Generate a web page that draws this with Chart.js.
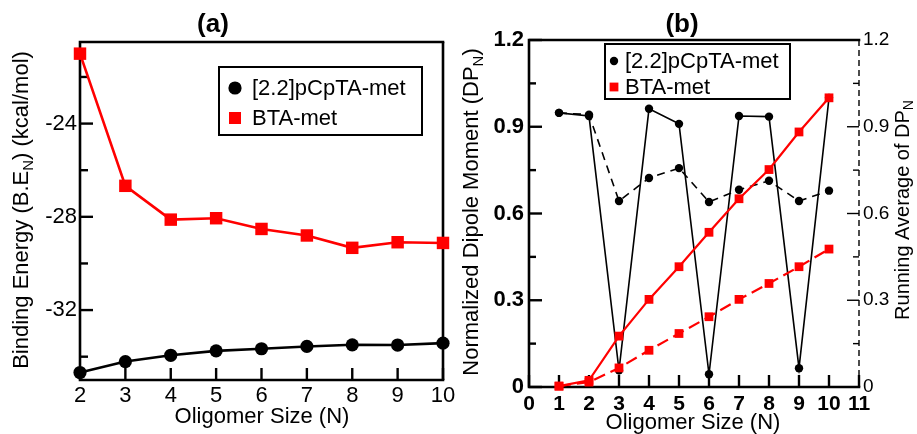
<!DOCTYPE html>
<html>
<head>
<meta charset="utf-8">
<script src="https://cdn.jsdelivr.net/npm/chart.js@4.4.1/dist/chart.umd.min.js"></script>
<style>
  html, body { margin: 0; padding: 0; background: #fff; }
  #wrap { position: relative; width: 917px; height: 434px; }
  #wrap canvas { position: absolute; top: 0; }
</style>
</head>
<body>
<div id="wrap">
  <canvas id="chartA" width="460" height="434" style="left:0"></canvas>
  <canvas id="chartB" width="457" height="434" style="left:460px"></canvas>
</div>
<script>
/* ==============================
   DATA - panel (a) binding energy
============================== */
const sizesA = [2, 3, 4, 5, 6, 7, 8, 9, 10];
const beCyclo = [-34.68, -34.21, -33.94, -33.75, -33.66, -33.56, -33.49, -33.5, -33.42];
const beBTA = [-21.0, -26.67, -28.12, -28.06, -28.52, -28.8, -29.33, -29.09, -29.12];
const xTicksA = [2, 3, 4, 5, 6, 7, 8, 9, 10];
const yTicksA = [-32, -28, -24];
const yMinorA = [-34, -30, -26, -22];

/* ==============================
   DATA - panel (b) dipole moment
============================== */
const sizesB = [1, 2, 3, 4, 5, 6, 7, 8, 9, 10];
const dpCyclo = [0.948, 0.937, 0.058, 0.962, 0.91, 0.044, 0.937, 0.935, 0.065, 1.0];
const dpCycloAvg = [0.948, 0.942, 0.643, 0.723, 0.757, 0.64, 0.682, 0.713, 0.643, 0.679];
const dpBTA = [0.003, 0.023, 0.176, 0.303, 0.416, 0.535, 0.651, 0.752, 0.882, 1.0];
const dpBTAAvg = [0.003, 0.017, 0.066, 0.127, 0.185, 0.243, 0.303, 0.358, 0.416, 0.477];
const xTicksB = [0, 1, 2, 3, 4, 5, 6, 7, 8, 9, 10, 11];
const yTicksB = [0, 0.3, 0.6, 0.9, 1.2];
const yMinorB = [0.15, 0.45, 0.75, 1.05];

const seriesNames = ["[2.2]pCpTA-met", "BTA-met"];

Chart.defaults.font.family = "'Liberation Sans', Arial, sans-serif";
Chart.defaults.color = "#000";

const pts = (xs, ys) => xs.map((x, i) => ({ x: x, y: ys[i] }));
const fixTicks = (vals) => (scale) => { scale.ticks = vals.map((v) => ({ value: v })); };
const fixSize = (prop, n) => (scale) => {
  scale[prop] = n;
  scale.paddingLeft = scale.paddingRight = scale.paddingTop = scale.paddingBottom = 0;
};

// draw text with subscripts, centred on (x, y), optionally rotated
function richText(ctx, parts, x, y, size, rot) {
  ctx.save();
  ctx.translate(x, y);
  if (rot) ctx.rotate(rot);
  ctx.textBaseline = "middle";
  ctx.textAlign = "left";
  const fam = "'Liberation Sans', Arial, sans-serif";
  let w = 0;
  parts.forEach((p) => {
    ctx.font = (p.sub ? Math.round(size * 0.7) : size) + "px " + fam;
    w += ctx.measureText(p.t).width;
  });
  let cx = -w / 2;
  parts.forEach((p) => {
    ctx.font = (p.sub ? Math.round(size * 0.7) : size) + "px " + fam;
    ctx.fillText(p.t, cx, p.sub ? size * 0.3 : 0);
    cx += ctx.measureText(p.t).width;
  });
  ctx.restore();
}

/* ==============================
   PLUGIN: frame, inward ticks, titles, legend
============================== */
const decor = {
  id: "decor",
  beforeDatasetsDraw(chart, args, o) {
    const ctx = chart.ctx;
    const a = chart.chartArea;
    ctx.save();
    ctx.strokeStyle = "#000";
    ctx.lineCap = "butt";

    o.marks.forEach((m) => {
      const s = chart.scales[m.scale];
      ctx.lineWidth = m.width;
      m.values.forEach((v) => {
        const p = s.getPixelForValue(v);
        ctx.beginPath();
        if (s.isHorizontal()) {
          ctx.moveTo(p, a.bottom);
          ctx.lineTo(p, a.bottom - m.len);
        } else if (s.position === "left") {
          ctx.moveTo(a.left, p);
          ctx.lineTo(a.left + m.len, p);
        } else {
          ctx.moveTo(a.right, p);
          ctx.lineTo(a.right - m.len, p);
        }
        ctx.stroke();
      });
    });

    // frame
    ctx.lineWidth = o.frameWidth;
    ctx.lineCap = "square";
    ctx.beginPath();
    ctx.moveTo(a.right, a.top);
    ctx.lineTo(a.left, a.top);
    ctx.lineTo(a.left, a.bottom);
    ctx.lineTo(a.right, a.bottom);
    ctx.stroke();
    ctx.lineCap = "butt";
    if (o.rightDash) {
      ctx.lineWidth = o.rightWidth;
      ctx.setLineDash(o.rightDash);
    }
    ctx.beginPath();
    ctx.moveTo(a.right, a.top);
    ctx.lineTo(a.right, a.bottom);
    ctx.stroke();
    ctx.restore();
  },
  afterDraw(chart, args, o) {
    const ctx = chart.ctx;
    ctx.save();
    ctx.fillStyle = "#000";

    // panel title
    ctx.font = "bold " + o.title.size + "px 'Liberation Sans', Arial, sans-serif";
    ctx.textAlign = "center";
    ctx.textBaseline = "middle";
    ctx.fillText(o.title.text, o.title.x, o.title.y);

    // axis titles
    o.axisTitles.forEach((t) => richText(ctx, t.parts, t.x, t.y, t.size, t.rot));

    // legend box
    const L = o.legend;
    ctx.lineWidth = 2;
    ctx.strokeStyle = "#000";
    ctx.strokeRect(L.x1, L.y1, L.x2 - L.x1, L.y2 - L.y1);
    ctx.font = L.size + "px 'Liberation Sans', Arial, sans-serif";
    ctx.textAlign = "left";
    ctx.textBaseline = "middle";
    L.rows.forEach((r, i) => {
      ctx.fillStyle = r.color;
      if (r.shape === "circle") {
        ctx.beginPath();
        ctx.arc(L.mx, r.y, r.r, 0, Math.PI * 2);
        ctx.fill();
      } else {
        ctx.fillRect(L.mx - r.r, r.y - r.r, r.r * 2, r.r * 2);
      }
      ctx.fillStyle = "#000";
      ctx.fillText(seriesNames[i], L.tx, r.y + 1);
    });
    ctx.restore();
  },
};

/* ==============================
   PANEL (a)
============================== */
new Chart(document.getElementById("chartA"), {
  type: "line",
  data: {
    datasets: [
      {
        label: seriesNames[0],
        data: pts(sizesA, beCyclo),
        borderColor: "#000",
        backgroundColor: "#000",
        borderWidth: 2.6,
        pointStyle: "circle",
        pointRadius: 6.6,
        pointBorderWidth: 0,
        clip: false,
      },
      {
        label: seriesNames[1],
        data: pts(sizesA, beBTA),
        borderColor: "#ff0000",
        backgroundColor: "#ff0000",
        borderWidth: 2.6,
        pointStyle: "rect",
        pointRadius: 8.8,
        pointBorderWidth: 0,
        clip: false,
      },
    ],
  },
  options: {
    responsive: false,
    animation: false,
    layout: { padding: { left: 0, right: 17, top: 42, bottom: 0 } },
    scales: {
      x: {
        type: "linear",
        min: 2,
        max: 10,
        afterBuildTicks: fixTicks(xTicksA),
        afterFit: fixSize("height", 54),
        grid: { display: false, drawTicks: false },
        border: { display: false },
        ticks: { font: { size: 22 }, padding: 3, maxRotation: 0 },
      },
      y: {
        min: -35,
        max: -20.5,
        afterBuildTicks: fixTicks(yTicksA),
        afterFit: fixSize("width", 80),
        grid: { display: false, drawTicks: false },
        border: { display: false },
        ticks: { font: { size: 22 }, padding: 3 },
      },
    },
    plugins: {
      legend: { display: false },
      tooltip: { enabled: false },
      decor: {
        frameWidth: 2.6,
        marks: [
          { scale: "x", values: xTicksA, len: 12, width: 2.4 },
          { scale: "y", values: yTicksA, len: 13, width: 2.4 },
          { scale: "y", values: yMinorA, len: 8, width: 2.4 },
        ],
        title: { text: "(a)", x: 213, y: 25, size: 26 },
        axisTitles: [
          { parts: [{ t: "Oligomer Size (N)" }], x: 262, y: 417, size: 22 },
          {
            parts: [{ t: "Binding Energy (B.E" }, { t: "N", sub: true }, { t: ") (kcal/mol)" }],
            x: 22, y: 210, size: 22, rot: -Math.PI / 2,
          },
        ],
        legend: {
          x1: 219, y1: 67, x2: 422, y2: 135, mx: 235, tx: 252, size: 22,
          rows: [
            { shape: "circle", color: "#000", r: 6.6, y: 88 },
            { shape: "rect", color: "#ff0000", r: 6, y: 118 },
          ],
        },
      },
    },
  },
  plugins: [decor],
});

/* ==============================
   PANEL (b)
============================== */
new Chart(document.getElementById("chartB"), {
  type: "line",
  data: {
    datasets: [
      {
        label: seriesNames[1],
        data: pts(sizesB, dpBTA),
        borderColor: "#ff0000",
        backgroundColor: "#ff0000",
        borderWidth: 2.2,
        pointStyle: "rect",
        pointRadius: 6.2,
        pointBorderWidth: 0,
        order: 0,
        clip: false,
      },
      {
        label: seriesNames[1] + " (running average)",
        data: pts(sizesB, dpBTAAvg),
        yAxisID: "y2",
        borderColor: "#ff0000",
        backgroundColor: "#ff0000",
        borderWidth: 2.2,
        borderDash: [12, 6],
        pointStyle: "rect",
        pointRadius: 6.2,
        pointBorderWidth: 0,
        order: 1,
        clip: false,
      },
      {
        label: seriesNames[0],
        data: pts(sizesB, dpCyclo),
        borderColor: "#000",
        backgroundColor: "#000",
        borderWidth: 1.6,
        pointStyle: "circle",
        pointRadius: 4.2,
        pointBorderWidth: 0,
        order: 2,
        clip: false,
      },
      {
        label: seriesNames[0] + " (running average)",
        data: pts(sizesB, dpCycloAvg),
        yAxisID: "y2",
        borderColor: "#000",
        backgroundColor: "#000",
        borderWidth: 1.6,
        borderDash: [8, 6],
        pointStyle: "circle",
        pointRadius: 4.2,
        pointBorderWidth: 0,
        order: 3,
        clip: false,
      },
    ],
  },
  options: {
    responsive: false,
    animation: false,
    layout: { padding: { left: 0, right: 0, top: 40, bottom: 0 } },
    scales: {
      x: {
        type: "linear",
        min: 0,
        max: 11,
        afterBuildTicks: fixTicks(xTicksB),
        afterFit: fixSize("height", 47),
        grid: { display: false, drawTicks: false },
        border: { display: false },
        ticks: { font: { size: 21, weight: "bold" }, padding: 5, maxRotation: 0, autoSkip: false },
      },
      y: {
        position: "left",
        min: 0,
        max: 1.2,
        afterBuildTicks: fixTicks(yTicksB),
        afterFit: fixSize("width", 69),
        grid: { display: false, drawTicks: false },
        border: { display: false },
        ticks: { font: { size: 22, weight: "bold" }, padding: 5 },
      },
      y2: {
        position: "right",
        min: 0,
        max: 1.2,
        afterBuildTicks: fixTicks(yTicksB),
        afterFit: fixSize("width", 58),
        grid: { display: false, drawTicks: false },
        border: { display: false },
        ticks: { font: { size: 19 }, padding: 4 },
      },
    },
    plugins: {
      legend: { display: false },
      tooltip: { enabled: false },
      decor: {
        frameWidth: 2.6,
        rightDash: [6, 4],
        rightWidth: 1.4,
        marks: [
          { scale: "x", values: xTicksB, len: 12, width: 2.4 },
          { scale: "y", values: yTicksB, len: 13, width: 2.4 },
          { scale: "y", values: yMinorB, len: 7, width: 2.4 },
          { scale: "y2", values: yTicksB, len: 12, width: 1.4 },
          { scale: "y2", values: yMinorB, len: 6, width: 1.4 },
        ],
        title: { text: "(b)", x: 222, y: 25, size: 26 },
        axisTitles: [
          { parts: [{ t: "Oligomer Size (N)" }], x: 233, y: 423, size: 22 },
          {
            parts: [{ t: "Normalized Dipole Moment (DP" }, { t: "N", sub: true }, { t: ")" }],
            x: 12, y: 212, size: 22, rot: -Math.PI / 2,
          },
          {
            parts: [{ t: "Running Average of DP" }, { t: "N", sub: true }],
            x: 443, y: 210, size: 20, rot: -Math.PI / 2,
          },
        ],
        legend: {
          x1: 145, y1: 44, x2: 330, y2: 99, mx: 154, tx: 165, size: 22,
          rows: [
            { shape: "circle", color: "#000", r: 4.2, y: 61 },
            { shape: "rect", color: "#ff0000", r: 4.4, y: 87 },
          ],
        },
      },
    },
  },
  plugins: [decor],
});
</script>
</body>
</html>
